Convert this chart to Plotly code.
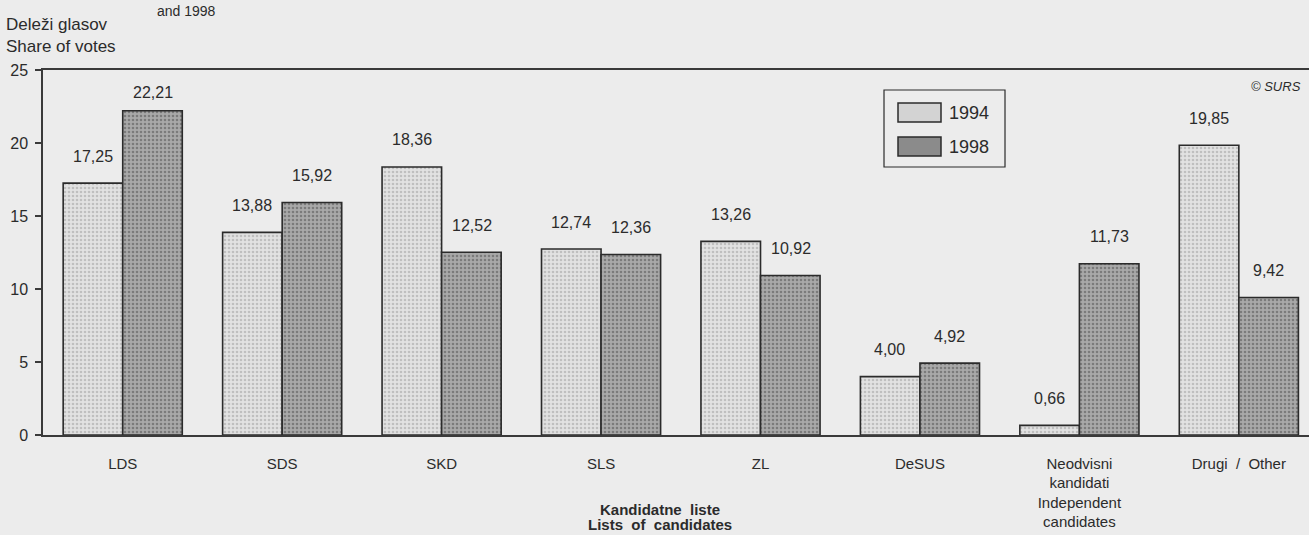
import plotly.graph_objects as go

# ---- data ----
categories = ["LDS", "SDS", "SKD", "SLS", "ZL", "DeSUS",
              "Neodvisni<br>kandidati<br>Independent<br>candidates", "Drugi  /  Other"]
years = ["1994", "1998"]
votes_1994 = [17.25, 13.88, 18.36, 12.74, 13.26, 4.00, 0.66, 19.85]
votes_1998 = [22.21, 15.92, 12.52, 12.36, 10.92, 4.92, 11.73, 9.42]
y_ticks = [0, 5, 10, 15, 20, 25]

# ---- layout geometry (pixels) ----
W, H = 1309, 535
ML, MR, MT, MB = 43, 0, 70, 100
PW, PH = W - ML - MR, H - MT - MB


def px(x):
    return (x - ML) / PW


def py(y):
    return (H - MB - y) / PH


FONT = "Liberation Sans, Arial, sans-serif"
INK = "#2b2b2b"
BG = "#ececec"

styles = {
    "1994": dict(bg="#e2e2e2", fg="#9c9c9c", solid="#d3d3d3"),
    "1998": dict(bg="#a9a9a9", fg="#4e4e4e", solid="#8b8b8b"),
}

# label placement (pixels above bar top); the tallest label sits closer to its bar
LABEL_OFFSET = 27
LABEL_NUDGE = {("1998", 0): -9}

fig = go.Figure()
for name, vals in zip(years, [votes_1994, votes_1998]):
    st = styles[name]
    fig.add_trace(go.Bar(
        x=categories, y=vals, name=name, showlegend=False,
        marker=dict(color=st["bg"],
                    line=dict(color=INK, width=1.6),
                    pattern=dict(shape=".", fgcolor=st["fg"], bgcolor=st["bg"],
                                 size=4, solidity=0.35)),
        hoverinfo="x+y",
    ))

# value labels
annotations = []
for i, (name, vals) in enumerate(zip(years, [votes_1994, votes_1998])):
    shift = -30 if i == 0 else 30
    for j, (c, v) in enumerate(zip(categories, vals)):
        annotations.append(dict(
            x=c, y=v, xref="x", yref="y", xshift=shift,
            yshift=LABEL_OFFSET + LABEL_NUDGE.get((name, j), 0),
            text=f"{v:.2f}".replace(".", ","), showarrow=False,
            yanchor="middle", xanchor="center",
            font=dict(family=FONT, size=16, color=INK)))

# texts
annotations += [
    dict(x=px(186), y=py(1), xref="paper", yref="paper", text="and 1998",
         showarrow=False, xanchor="center", yanchor="top",
         font=dict(family=FONT, size=14, color=INK)),
    dict(x=px(4), y=py(25), xref="paper", yref="paper", text="Deleži glasov",
         showarrow=False, xanchor="left", yanchor="middle",
         font=dict(family=FONT, size=17, color=INK)),
    dict(x=px(4), y=py(46), xref="paper", yref="paper", text="Share of votes",
         showarrow=False, xanchor="left", yanchor="middle",
         font=dict(family=FONT, size=17, color=INK)),
    dict(x=px(1303), y=py(86), xref="paper", yref="paper", text="<i>© SURS</i>",
         showarrow=False, xanchor="right", yanchor="middle",
         font=dict(family=FONT, size=13, color=INK)),
    dict(x=px(660), y=py(509), xref="paper", yref="paper", text="<b>Kandidatne  liste</b>",
         showarrow=False, xanchor="center", yanchor="middle",
         font=dict(family=FONT, size=15, color=INK)),
    dict(x=px(660), y=py(524), xref="paper", yref="paper", text="<b>Lists  of  candidates</b>",
         showarrow=False, xanchor="center", yanchor="middle",
         font=dict(family=FONT, size=15, color=INK)),
]

# manual legend
shapes = [dict(type="rect", xref="paper", yref="paper",
               x0=px(884), x1=px(1005), y0=py(167), y1=py(90),
               line=dict(color=INK, width=1.2), fillcolor=BG)]
for name, (y0, y1) in zip(years, [(103, 122), (137, 156)]):
    shapes.append(dict(type="rect", xref="paper", yref="paper",
                       x0=px(898), x1=px(941), y0=py(y1), y1=py(y0),
                       line=dict(color=INK, width=1.5),
                       fillcolor=styles[name]["solid"]))
    annotations.append(dict(x=px(947), y=py((y0 + y1) / 2), xref="paper", yref="paper",
                            text=name, showarrow=False, xanchor="left", yanchor="middle",
                            font=dict(family=FONT, size=18, color=INK)))

fig.update_layout(
    width=W, height=H,
    margin=dict(l=ML, r=MR, t=MT, b=MB, pad=0),
    paper_bgcolor=BG, plot_bgcolor=BG,
    barmode="group", bargap=0.253, bargroupgap=0,
    showlegend=False,
    annotations=annotations, shapes=shapes,
    font=dict(family=FONT, color=INK),
)
fig.update_xaxes(
    range=[-0.5, 7.44], showline=True, linecolor="#3a3a3a", linewidth=1.8,
    mirror=True, ticks="", showgrid=False, zeroline=False,
    tickfont=dict(family=FONT, size=15, color=INK), ticklabelstandoff=14,
)
fig.update_yaxes(
    range=[0, 25], tickvals=y_ticks, showline=True, linecolor="#3a3a3a", linewidth=1.5,
    ticks="outside", ticklen=6, tickwidth=1.5, tickcolor="#3a3a3a",
    showgrid=False, zeroline=False, ticklabelstandoff=4,
    tickfont=dict(family=FONT, size=16, color=INK),
)

fig.write_html(
    "out.html",
    config={"displayModeBar": False},
    post_script="document.body.style.margin='0px';"
                "document.body.style.background='#ececec';",
)
